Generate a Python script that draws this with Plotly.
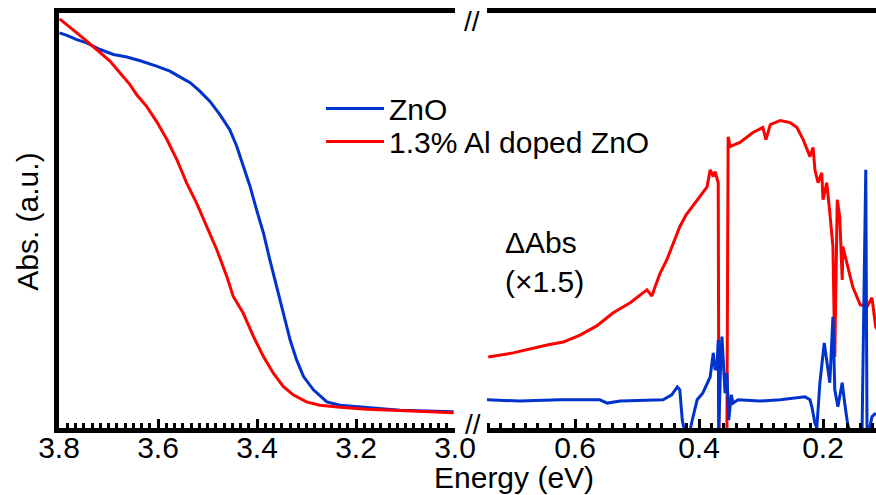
import plotly.graph_objects as go

# ---------------- data ----------------
# Left panel: absorbance edge (Energy in eV, Abs in a.u.)
e_left_zno = [3.799, 3.784, 3.764, 3.744, 3.717, 3.690, 3.663, 3.636, 3.603, 3.576,
              3.556, 3.535, 3.515, 3.495, 3.475, 3.455, 3.441, 3.428, 3.414, 3.401,
              3.387, 3.374, 3.360, 3.347, 3.333, 3.320, 3.306, 3.286, 3.259, 3.232,
              3.178, 3.111, 3.003]
abs_left_zno = [95.2, 94.6, 93.6, 92.8, 91.2, 90.0, 89.4, 88.5, 87.2, 86.0,
                84.6, 83.2, 81.1, 78.7, 75.5, 71.9, 67.9, 63.4, 58.2, 52.6,
                47.0, 40.5, 34.1, 27.7, 21.2, 16.4, 12.4, 9.2, 6.3, 5.5,
                5.0, 4.3, 3.9]

e_left_al = [3.799, 3.784, 3.764, 3.744, 3.724, 3.697, 3.677, 3.657, 3.643, 3.623,
             3.603, 3.582, 3.562, 3.542, 3.522, 3.502, 3.481, 3.461, 3.448, 3.428,
             3.407, 3.387, 3.367, 3.347, 3.327, 3.300, 3.273, 3.232, 3.178, 3.111,
             3.003]
abs_left_al = [98.6, 97.2, 95.2, 93.2, 91.2, 88.4, 85.6, 82.8, 80.3, 77.5,
               73.9, 69.5, 64.7, 59.0, 54.2, 48.6, 42.9, 36.5, 31.7, 27.7,
               22.0, 17.2, 13.2, 10.0, 8.0, 6.3, 5.5, 5.0, 4.5, 4.2,
               3.7]

# Right panel: difference absorbance (x1.5)
e_right_al = [0.740, 0.700, 0.645, 0.619, 0.592, 0.565, 0.539, 0.511, 0.484, 0.476,
              0.471, 0.463, 0.452, 0.442, 0.431, 0.421, 0.400, 0.387, 0.382, 0.377,
              0.374, 0.371, 0.369, 0.368, 0.355, 0.353, 0.350, 0.334, 0.313, 0.297,
              0.292, 0.285, 0.269, 0.253, 0.242, 0.232, 0.221, 0.216, 0.213, 0.208,
              0.202, 0.200, 0.194, 0.189, 0.184, 0.181, 0.177, 0.173, 0.169, 0.168,
              0.152, 0.140, 0.129, 0.121, 0.115, 0.108]
dabs_right_al = [17.1, 18.1, 20.0, 20.7, 22.4, 24.6, 27.7, 30.2, 33.3, 31.8,
                 34.0, 37.2, 40.5, 44.5, 48.5, 51.3, 55.5, 58.1, 62.2, 60.6,
                 61.8, 59.8, 59.1, -0.5, -0.5, 70.2, 67.8, 68.8, 71.2, 72.4,
                 69.5, 73.1, 74.1, 73.6, 72.4, 69.5, 65.4, 67.6, 62.2, 59.1,
                 61.5, 55.0, 59.1, 51.9, 43.7, 17.1, 55.0, 50.9, 35.7, 43.7,
                 34.0, 29.7, 29.2, 31.4, 24.4, 22.4]

e_right_zno = [0.742, 0.689, 0.624, 0.560, 0.548, 0.527, 0.458, 0.444, 0.435, 0.431,
               0.427, 0.423, 0.415, 0.412, 0.403, 0.394, 0.382, 0.377, 0.374, 0.371,
               0.369, 0.368, 0.365, 0.363, 0.358, 0.355, 0.352, 0.348, 0.345, 0.337,
               0.302, 0.269, 0.229, 0.221, 0.218, 0.213, 0.210, 0.205, 0.198, 0.194,
               0.189, 0.184, 0.181, 0.176, 0.169, 0.165, 0.160, 0.156, 0.137, 0.134,
               0.132, 0.131, 0.129, 0.126, 0.121, 0.115]
dabs_right_zno = [6.8, 6.5, 6.8, 6.8, 6.0, 6.5, 6.8, 8.0, 9.9, 9.2,
                  1.9, -1.0, -1.0, 1.2, 6.8, 8.4, 12.3, 18.1, 14.0, 14.7,
                  21.2, -0.5, 16.4, 22.0, 8.4, 13.3, 1.9, 8.0, 6.0, 6.8,
                  6.5, 6.8, 7.5, 6.8, 5.1, 1.2, 0.0, 10.9, 20.5, 16.4,
                  10.9, 26.8, 9.2, 5.1, 10.9, 6.0, 0.7, -1.0, -1.0, 30.9,
                  62.2, 62.2, 0.0, -1.0, 2.7, 3.6]

left_ticks = [3.8, 3.6, 3.4, 3.2, 3.0]
right_ticks = [0.6, 0.4, 0.2]

series_names = ["ZnO", "1.3% Al doped ZnO"]
BLUE = "rgb(0,51,204)"
RED = "rgb(255,0,0)"
FONT = "Arial, Liberation Sans, sans-serif"

# ---------------- figure ----------------
fig = go.Figure()

fig.add_trace(go.Scatter(x=e_left_zno, y=abs_left_zno, mode="lines", name=series_names[0],
                         line=dict(color=BLUE, width=3), xaxis="x", yaxis="y",
                         legend="legend"))
fig.add_trace(go.Scatter(x=e_left_al, y=abs_left_al, mode="lines", name=series_names[1],
                         line=dict(color=RED, width=3), xaxis="x", yaxis="y",
                         legend="legend2"))
fig.add_trace(go.Scatter(x=e_right_al, y=dabs_right_al, mode="lines", showlegend=False,
                         line=dict(color=RED, width=3), xaxis="x2", yaxis="y"))
fig.add_trace(go.Scatter(x=e_right_zno, y=dabs_right_zno, mode="lines", showlegend=False,
                         line=dict(color=BLUE, width=3), xaxis="x2", yaxis="y"))

axis_common = dict(showline=True, linecolor="black", linewidth=5, mirror=True,
                   ticks="inside", ticklen=9, tickwidth=3, tickcolor="black",
                   showgrid=False, zeroline=False, automargin=False,
                   ticklabelstandoff=-11,
                   tickfont=dict(family=FONT, size=30, color="black"))

legend_common = dict(xanchor="left", yanchor="top",
                     font=dict(family=FONT, size=30, color="black"),
                     bgcolor="rgba(0,0,0,0)", itemwidth=58)

fig.update_layout(
    width=876, height=495,
    margin=dict(l=59, r=0, t=13, b=67, autoexpand=False),
    paper_bgcolor="white", plot_bgcolor="white",
    showlegend=True,
    legend=dict(x=(321 - 59) / 817, y=(428 - 83) / 414.5, **legend_common),
    legend2=dict(x=(321 - 59) / 817, y=(428 - 116) / 414.5, **legend_common),
    xaxis=dict(domain=[0, 396 / 817], range=[3.8, 3.0], tickvals=left_ticks,
               ticktext=[f"{v:.1f}" for v in left_ticks],
               minor=dict(dtick=0.1 / 6, ticks="inside", ticklen=5, tickwidth=3,
                          tickcolor="black", showgrid=False),
               anchor="y", **axis_common),
    xaxis2=dict(domain=[(487 - 59) / 817, 1], range=[0.742, 0.1145], tickvals=right_ticks,
                ticktext=[f"{v:.1f}" for v in right_ticks],
                minor=dict(dtick=0.02, ticks="inside", ticklen=5, tickwidth=3,
                           tickcolor="black", showgrid=False),
                anchor="y", **axis_common),
    yaxis=dict(range=[0, 100], showline=True, linecolor="black", linewidth=5,
               showticklabels=False, ticks="", showgrid=False, zeroline=False,
               automargin=False),
)

ann_font = dict(family=FONT, size=30, color="black")
fig.add_annotation(text="Energy (eV)", xref="paper", yref="paper",
                   x=(514 - 59) / 817, y=0, xanchor="center", yanchor="top",
                   yshift=-31, showarrow=False, font=ann_font)
fig.add_annotation(text="Abs. (a.u.)", xref="paper", yref="paper", textangle=-90,
                   x=(28 - 59) / 817, y=(428 - 222) / 414.5, xanchor="center",
                   yanchor="middle", showarrow=False, font=ann_font)
fig.add_annotation(text="\u0394Abs<br>(\u00d71.5)", xref="paper", yref="paper",
                   x=(503 - 59) / 817, y=(428 - 224) / 414.5, xanchor="left",
                   yanchor="top", align="left", showarrow=False, font=ann_font)
fig.add_annotation(text="//", xref="paper", yref="paper", x=(472 - 59) / 817,
                   y=(428 - 21) / 414.5, xanchor="center", yanchor="middle",
                   height=22, valign="middle", borderpad=0,
                   showarrow=False, font=dict(family=FONT, size=28, color="black"))
fig.add_annotation(text="//", xref="paper", yref="paper", x=(473 - 59) / 817,
                   y=(428 - 424) / 414.5, xanchor="center", yanchor="middle",
                   height=22, valign="middle", borderpad=0,
                   showarrow=False, font=dict(family=FONT, size=28, color="black"))

fig.write_html("out.html")
